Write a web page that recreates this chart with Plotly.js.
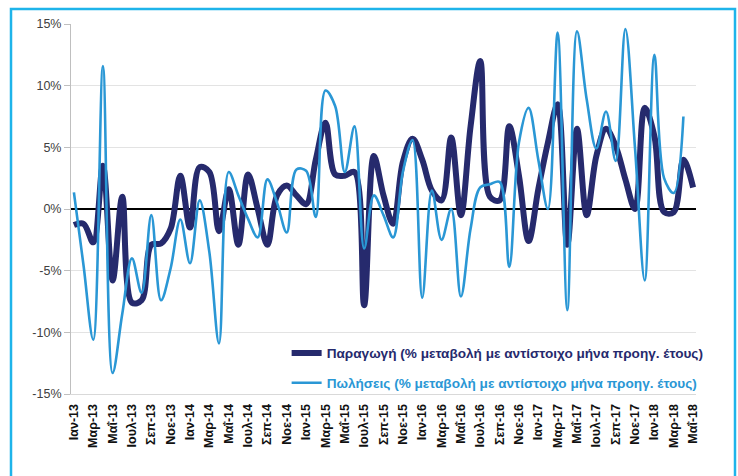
<!DOCTYPE html>
<html>
<head>
<meta charset="utf-8">
<script src="https://cdn.plot.ly/plotly-3.0.1.min.js"></script>
<style>
  html, body { margin: 0; padding: 0; background: #ffffff; }
  #chart { width: 738px; height: 476px; }
</style>
</head>
<body>
<div id="chart"></div>
<script>
// Month categories Jan 2013 – May 2018
const monthNames = ["Ιαν", "Φεβ", "Μαρ", "Απρ", "Μαΐ", "Ιουν", "Ιουλ", "Αυγ", "Σεπ", "Οκτ", "Νοε", "Δεκ"];
const years = ["13", "14", "15", "16", "17", "18"];
const months = [];
years.forEach(y => monthNames.forEach(m => months.push(m + "-" + y)));
months.length = 65;

// Production (% change vs same month of previous year)
const production = [
  -1.3, -1.2, -2.7, 3.5, -5.8, 1.0, -7.6, -7.4, -2.9, -2.8,
  -1.6, 2.7, -1.5, 3.4, 3.0, -1.8, 1.6, -2.9, 2.8, 0.0,
  -2.9, 1.1, 1.9, 1.1, 0.4, 4.0, 7.0, 2.8, 2.7, 3.0,
  -7.8, 4.3, 1.1, -1.2, 3.8, 5.7, 4.0, 1.5, 0.7, 5.8,
  -0.5, 6.7, 12.0, 1.0, 0.7, 6.7, 2.7, -2.6, 1.6, 5.4,
  8.5, -2.9, 6.5, -0.5, 4.3, 6.5, 5.1, 2.4, 0.0, 8.2,
  5.9, -0.25, -0.25, 4.0, 1.75
];

// Sales (% change vs same month of previous year)
const sales = [
  1.35, -4.6, -10.6, 11.6, -13.3, -8.5, -4.0, -6.8, -0.5, -7.4,
  -4.8, -0.85, -4.4, 0.7, -3.5, -10.9, 3.0, 1.1, -0.8, -2.3,
  2.4, 0.5, -1.9, 3.2, 3.1, -0.65, 9.6, 8.35, 3.0, 6.7,
  -3.2, 1.1, -0.5, -2.3, 3.0, 5.6, -7.2, 1.5, -2.5, 0.0,
  -7.1, -1.6, 1.75, 2.0, 2.2, -4.7, 5.4, 8.2, 4.0, 0.0,
  14.3, -8.2, 14.4, 8.9, 4.9, 7.9, 3.9, 14.6, 4.9, -5.8,
  12.5, 2.5, 1.3, 7.5
];

const seriesNames = [
  "Παραγωγή (% μεταβολή με αντίστοιχο μήνα προηγ. έτους)",
  "Πωλήσεις (% μεταβολή με αντίστοιχο μήνα προηγ. έτους)"
];

const xTickVals = months.filter((m, i) => i % 2 === 0);
const yTickVals = [-15, -10, -5, 0, 5, 10, 15];
const yTickText = ["-15%", "-10%", "-5%", "0%", "5%", "10%", "15%"];

const darkColor = "#262a6d";
const lightColor = "#2a97d5";

const traces = [
  {
    x: months.slice(0, production.length), y: production,
    type: "scatter", mode: "lines",
    line: { color: darkColor, width: 6, shape: "spline", smoothing: 1 },
    name: '<b><span style="color:' + darkColor + '">' + seriesNames[0] + '</span></b>',
    legendgroup: "a",
    hoverinfo: "skip"
  },
  {
    x: months.slice(0, sales.length), y: sales,
    type: "scatter", mode: "lines",
    line: { color: lightColor, width: 2.6, shape: "spline", smoothing: 1 },
    name: '<b><span style="color:' + lightColor + '">' + seriesNames[1] + '</span></b>',
    legendgroup: "b",
    hoverinfo: "skip"
  }
];

const layout = {
  width: 738, height: 476,
  margin: { l: 71, r: 42, t: 24, b: 82 },
  paper_bgcolor: "#ffffff", plot_bgcolor: "#ffffff",
  font: { family: "Liberation Sans, Arial, sans-serif", color: "#404040", size: 12 },
  showlegend: true,
  legend: {
    x: 0.345, xanchor: "left", y: 0.152, yanchor: "top",
    bgcolor: "rgba(255,255,255,0)",
    font: { size: 13.6, family: "Liberation Sans, Arial, sans-serif" },
    traceorder: "grouped", tracegroupgap: 9,
    itemwidth: 30
  },
  xaxis: {
    type: "category",
    categoryorder: "array", categoryarray: months,
    range: [-0.3, 64.3],
    tickmode: "array", tickvals: xTickVals, ticktext: xTickVals,
    tickangle: -90,
    tickfont: { size: 12.5, color: "#111111", weight: "bold" },
    ticklabelstandoff: 4,
    showgrid: false, zeroline: false,
    showline: true, linecolor: "#d9d9d9", linewidth: 1,
    ticks: ""
  },
  yaxis: {
    range: [-15, 15],
    tickmode: "array", tickvals: yTickVals, ticktext: yTickText,
    showgrid: true, gridcolor: "#e3e3e3", gridwidth: 1,
    zeroline: true, zerolinecolor: "#000000", zerolinewidth: 1.6,
    showline: true, linecolor: "#bfbfbf", linewidth: 1,
    ticks: "outside", ticklen: 6, tickcolor: "#bfbfbf",
    tickfont: { size: 12.5, color: "#404040" }
  },
  shapes: [
    {
      type: "rect", xref: "paper", yref: "paper",
      x0: (11 - 71) / 625, x1: (735 - 71) / 625,
      y0: (394 - 490) / 370, y1: (394 - 9) / 370,
      line: { color: "#1eb4ea", width: 2.5 },
      fillcolor: "rgba(0,0,0,0)"
    }
  ]
};

Plotly.newPlot("chart", traces, layout, { displayModeBar: false, staticPlot: true });
</script>
</body>
</html>
